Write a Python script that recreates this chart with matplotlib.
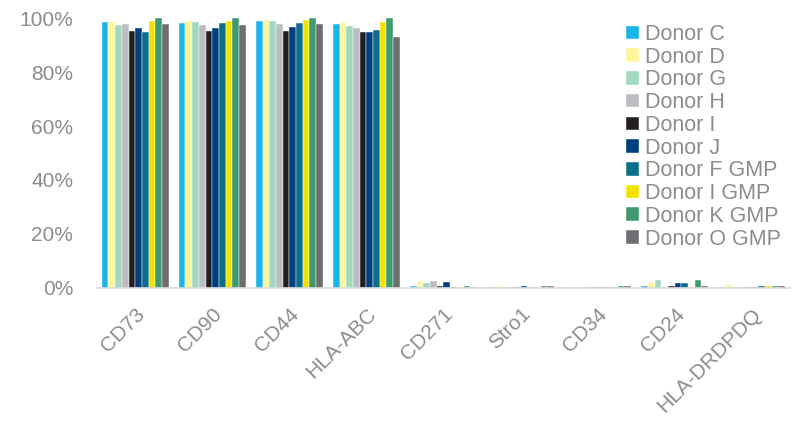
import matplotlib.pyplot as plt
import numpy as np

plt.rcParams['font.family'] = ['Liberation Sans', 'DejaVu Sans']

markers = ['CD73', 'CD90', 'CD44', 'HLA-ABC', 'CD271', 'Stro1', 'CD34', 'CD24', 'HLA-DRDPDQ']
donors = ['Donor C', 'Donor D', 'Donor G', 'Donor H', 'Donor I', 'Donor J',
          'Donor F GMP', 'Donor I GMP', 'Donor K GMP', 'Donor O GMP']
colors = ['#19b5ea', '#fff59a', '#a2d8bf', '#bcbdc0', '#231f20', '#003f7f',
          '#0d6e8b', '#f4e100', '#3f9a6f', '#6d6e72']

# percent positive, one list per donor (order = markers)
donor_c = [98.6, 98.3, 98.9, 98.0, 0.7, 0.2, 0.2, 0.7, 0.4]
donor_d = [98.7, 99.0, 99.3, 98.2, 2.7, 0.5, 0.2, 1.8, 1.1]
donor_g = [97.4, 98.5, 98.8, 97.0, 1.9, 0.2, 0.2, 2.8, 0.4]
donor_h = [97.8, 97.5, 97.8, 96.2, 2.6, 0.4, 0.2, 0.2, 0.3]
donor_i = [95.2, 95.2, 95.2, 94.7, 0.7, 0.2, 0.2, 0.8, 0.3]
donor_j = [96.2, 96.2, 96.9, 94.7, 2.2, 0.6, 0.2, 1.8, 0.3]
donor_f_gmp = [94.9, 98.3, 98.3, 95.5, 0.3, 0.2, 0.2, 1.8, 0.5]
donor_i_gmp = [99.0, 98.9, 99.3, 98.5, 0.3, 0.2, 0.2, 0.2, 0.5]
donor_k_gmp = [100.0, 100.0, 100.0, 100.0, 0.7, 0.5, 0.5, 3.0, 0.5]
donor_o_gmp = [97.8, 97.5, 97.8, 93.0, 0.4, 0.5, 0.5, 0.6, 0.5]

values = [donor_c, donor_d, donor_g, donor_h, donor_i, donor_j,
          donor_f_gmp, donor_i_gmp, donor_k_gmp, donor_o_gmp]

fig = plt.figure(figsize=(7.99, 4.22), dpi=100)
ax = fig.add_axes([0.121, 0.318, 0.868, 0.639])

x = np.arange(len(markers))
n = len(donors)
w = 0.087
for i, (name, vals, c) in enumerate(zip(donors, values, colors)):
    ax.bar(x + (i - (n - 1) / 2) * w, np.array(vals) / 100, w, color=c,
           edgecolor='white', linewidth=0.3, label=name)

gray = '#8c8c8c'
ax.set_xlim(-0.5, len(markers) - 0.5)
ax.set_ylim(0, 1)
ax.set_yticks(np.arange(0, 1.01, 0.2))
ax.set_yticklabels([f'{int(round(v * 100))}%' for v in np.arange(0, 1.01, 0.2)])
ax.set_xticks(x)
ax.set_xticklabels(markers, rotation=45, ha='right', rotation_mode='anchor')
ax.tick_params(axis='both', length=0, colors=gray, labelsize=15)
ax.tick_params(axis='y', pad=17)
ax.tick_params(axis='x', pad=12)
for s in ['top', 'right', 'left']:
    ax.spines[s].set_visible(False)
ax.spines['bottom'].set_color('#d9d9d9')
ax.spines['bottom'].set_linewidth(1.2)

leg = ax.legend(loc='upper right', bbox_to_anchor=(1.015, 1.05), frameon=False,
                fontsize=15.5, handlelength=0.6, handleheight=0.6,
                handletextpad=0.3, labelspacing=0.08)
for t in leg.get_texts():
    t.set_color(gray)

fig.savefig('out.png', dpi=100)
